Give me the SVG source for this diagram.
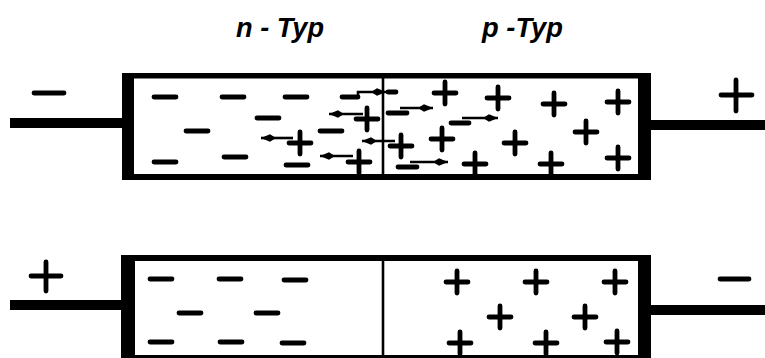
<svg xmlns="http://www.w3.org/2000/svg" width="765" height="358" viewBox="0 0 765 358">
<defs>
<style>
.ch{stroke:#000;stroke-width:4.8;stroke-linecap:round;fill:none}
.lead{fill:#000}
.frame{fill:#000}
.inner{fill:#fff}
.div{stroke:#000;stroke-width:2.6}
.ar{stroke:#000;stroke-width:2.6;fill:none;marker-end:url(#ah)}
.lbl{font-family:"Liberation Sans",Arial,sans-serif;font-style:italic;font-weight:bold;font-size:27px;fill:#000}
</style>
<marker id="ah" markerUnits="userSpaceOnUse" markerWidth="18" markerHeight="10" refX="15" refY="5" orient="auto" viewBox="0 0 18 10">
<path d="M0,5 L6,1.3 L15,5 L6,8.7 Z" fill="#000"/>
</marker>
<path id="m" d="M-11,0 H11" class="ch"/>
<path id="p" d="M-11,0 H11 M0,-11 V11" class="ch"/>
</defs>
<rect width="765" height="358" fill="#fff"/>

<g id="labels">
<text class="lbl" x="236" y="37" textLength="88" lengthAdjust="spacingAndGlyphs">n - Typ</text>
<text class="lbl" x="482" y="37" textLength="81" lengthAdjust="spacingAndGlyphs">p -Typ</text>
</g>

<g id="top-diode">
<rect class="lead" x="10" y="118" width="114" height="10"/>
<rect class="lead" x="649" y="120" width="116" height="10"/>
<rect class="frame" x="122" y="73" width="529" height="107"/>
<rect class="inner" x="134" y="78.5" width="504" height="95.5"/>
<line class="div" x1="383" y1="78" x2="383" y2="174"/>
<path d="M34,93 H64 M736,80 V111 M721,95 H752" class="ch" stroke-width="5"/>
<g id="top-n">
<use href="#m" x="165" y="97"/>
<use href="#m" x="233" y="97"/>
<use href="#m" x="296" y="97"/>
<use href="#m" x="268" y="118"/>
<use href="#m" x="197" y="131"/>
<use href="#m" x="331" y="131"/>
<use href="#m" x="165" y="162"/>
<use href="#m" x="235" y="157"/>
<use href="#m" x="297" y="165"/>
<path d="M342,97 H358" class="ch"/>
<path class="ar" d="M358,97 V92 H386"/>
<path d="M388,92 H396" class="ch"/>
<path class="ar" d="M363,114 H329"/>
<use href="#p" x="367" y="119"/>
<path class="ar" d="M293,138 H261"/>
<use href="#p" x="300" y="143"/>
<path class="ar" d="M395,141 H362"/>
<use href="#p" x="401" y="146"/>
<path class="ar" d="M353,156 H320"/>
<use href="#p" x="359" y="162"/>
</g>
<g id="top-p">
<use href="#p" x="445" y="93"/>
<use href="#p" x="498" y="98"/>
<use href="#p" x="554" y="104"/>
<use href="#p" x="618" y="102"/>
<use href="#p" x="586" y="132"/>
<use href="#p" x="442" y="139"/>
<use href="#p" x="515" y="143"/>
<use href="#p" x="475" y="164"/>
<use href="#p" x="551" y="164"/>
<use href="#p" x="618" y="158"/>
<path d="M388,113 H407" class="ch"/>
<path class="ar" d="M400,108 H433"/>
<path d="M451,123 H469" class="ch"/>
<path class="ar" d="M462,118 H498"/>
<path d="M398,167 H417" class="ch"/>
<path class="ar" d="M410,162 H448"/>
</g>
</g>

<g id="bottom-diode">
<rect class="lead" x="10" y="300" width="114" height="10"/>
<rect class="lead" x="649" y="305" width="116" height="10"/>
<rect class="frame" x="121" y="255" width="530" height="110"/>
<rect class="inner" x="135" y="261" width="503" height="94"/>
<line class="div" x1="383" y1="261" x2="383" y2="355"/>
<path d="M46,262 V291 M31,276 H61 M720,279 H749" class="ch" stroke-width="5"/>
<g id="bottom-n">
<use href="#m" x="161" y="279"/>
<use href="#m" x="230" y="279"/>
<use href="#m" x="295" y="280"/>
<use href="#m" x="190" y="313"/>
<use href="#m" x="267" y="313"/>
<use href="#m" x="161" y="342"/>
<use href="#m" x="231" y="342"/>
<use href="#m" x="293" y="343"/>
</g>
<g id="bottom-p">
<use href="#p" x="457" y="282"/>
<use href="#p" x="536" y="282"/>
<use href="#p" x="615" y="282"/>
<use href="#p" x="500" y="317"/>
<use href="#p" x="585" y="317"/>
<use href="#p" x="460" y="343"/>
<use href="#p" x="546" y="343"/>
<use href="#p" x="617" y="342"/>
</g>
</g>
</svg>
